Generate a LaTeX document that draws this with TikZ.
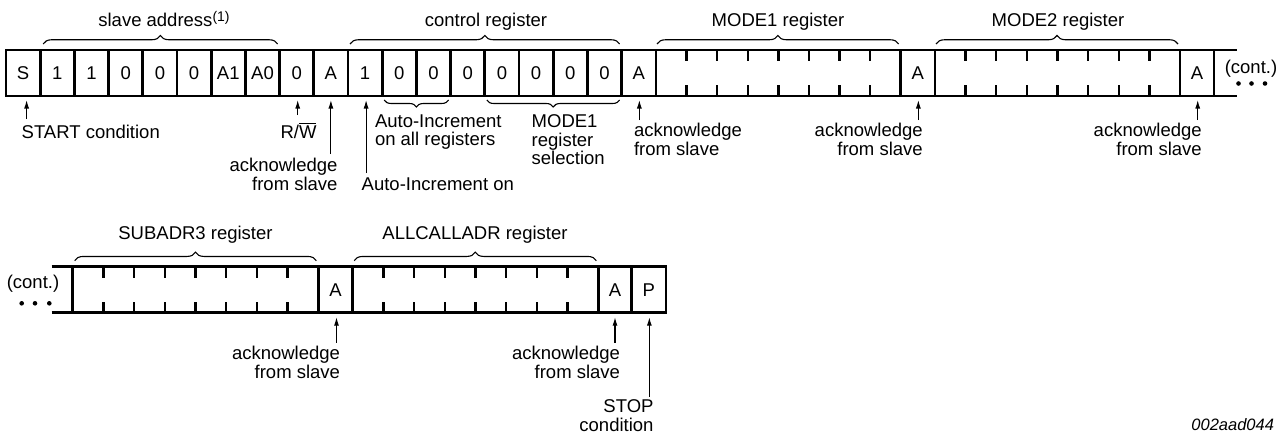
\documentclass[tikz,border=0pt]{standalone}
\usepackage{fontspec}
\setmainfont{Liberation Sans}
\usetikzlibrary{arrows.meta,decorations.pathreplacing,calc}
\newcommand\ovl[1]{\setbox0\hbox{#1}\rlap{\rule[\dimexpr\ht0+1.6pt\relax]{\wd0}{1.1pt}}\box0}
\newcommand\lblfont{\fontsize{18.5}{18.3}\selectfont}
\begin{document}
\begin{tikzpicture}[x=1pt,y=-1pt,
  cell/.style={draw,line width=2.8pt,minimum height=46pt,inner sep=0pt,outer sep=0pt,anchor=north west,font=\lblfont},
  lnk/.style={line width=2.8pt},
  tk/.style={line width=2.4pt},
  arr/.style={line width=1.1pt,-{Latex[length=8.5pt,width=5pt]}},
  brc/.style={decorate,decoration={brace,amplitude=8.5pt},line width=1.1pt},
  brcd/.style={decorate,decoration={brace,amplitude=7pt},line width=1.1pt},
  lbl/.style={font=\lblfont,inner sep=0pt,outer sep=0pt},
  dot/.style={fill,circle,inner sep=0pt,minimum size=4.6pt}]
\path[use as bounding box] (0,0) rectangle (1288,439);

% ---------- row 1 ----------
\foreach \t [count=\i from 0] in {S,1,1,0,0,0,A1,A0,0,A,1,0,0,0,0,0,0,0}
  \node[cell,minimum width=34.2pt] (c\i) at ({6+\i*34.2},50) {\t};
\node[cell,minimum width=34.3pt] (a1) at (621.7,50) {A};
\node[cell,minimum width=244.7pt] (m1) at (656,50) {};
\node[cell,minimum width=34.3pt] (a2) at (900.7,50) {A};
\node[cell,minimum width=245pt] (m2) at (935,50) {};
\node[cell,minimum width=34pt] (a3) at (1180,50) {A};
\coordinate (e1t) at (1236.7,50);
\coordinate (e1b) at (1236.7,96);
\draw[lnk] (a3.north east) -- (e1t);
\draw[lnk] (a3.south east) -- (e1b);
\node[lbl,anchor=base] (cont1) at (1251,73.5) {(cont.)};
\node[dot] (d11) at (1238.5,83.5) {};
\node[dot] (d12) at (1251.5,83.5) {};
\node[dot] (d13) at (1265,83.5) {};

% ---------- row 2 ----------
\coordinate (s0t) at (51.7,266.7);
\coordinate (s0b) at (51.7,312.7);
\node[cell,minimum width=245.6pt] (m3) at (72.7,266.7) {};
\node[cell,minimum width=34.4pt] (a4) at (318.3,266.7) {A};
\node[cell,minimum width=245.6pt] (m4) at (352.7,266.7) {};
\node[cell,minimum width=33.4pt] (a5) at (598.3,266.7) {A};
\node[cell,minimum width=34.3pt] (pp) at (631.7,266.7) {P};
\draw[lnk] (s0t) -- (m3.north west);
\draw[lnk] (s0b) -- (m3.south west);
\node[lbl,anchor=base] (cont2) at (33,288.5) {(cont.)};
\node[dot] (d21) at (21.7,303.3) {};
\node[dot] (d22) at (35,303.3) {};
\node[dot] (d23) at (49.3,303.3) {};

% ticks in register fields
\foreach \r in {m1,m2,m3,m4}
  \foreach \k in {1,...,7} {
    \draw[tk] ($(\r.north west)!\k/8!(\r.north east)$) -- ++(0,11);
    \draw[tk] ($(\r.south west)!\k/8!(\r.south east)$) -- ++(0,-11);
  }

% ---------- top braces and labels ----------
\draw[brc] ($(c1.north west)+(3,-6)$) -- ($(c7.north east)+(-2,-6)$);
\draw[brc] ($(c10.north west)+(2,-6)$) -- ($(c17.north east)+(-2,-6)$);
\draw[brc] ($(m1.north west)+(1,-6)$) -- ($(m1.north east)+(-2,-6)$);
\draw[brc] ($(m2.north west)+(1,-6)$) -- ($(m2.north east)+(-2,-6)$);
\draw[brc] ($(m3.north west)+(2,-6)$) -- ($(m3.north east)+(-2,-6)$);
\draw[brc] ($(m4.north west)+(1.5,-6)$) -- ($(m4.north east)+(-2,-6)$);
\node[lbl,anchor=base] (tsa) at (164,27) {slave address\raisebox{5.5pt}{\fontsize{14}{14}\selectfont(1)}};
\node[lbl,anchor=base] (tcr) at (486,27) {control register};
\node[lbl,anchor=base] (tm1) at (778,27) {MODE1 register};
\node[lbl,anchor=base] (tm2) at (1058,27) {MODE2 register};
\node[lbl,anchor=base] (ts3) at (195.5,239) {SUBADR3 register};
\node[lbl,anchor=base] (tal) at (475,239) {ALLCALLADR register};

% ---------- row 1 annotations ----------
\node[lbl,anchor=base west] (lstart) at (21.7,138) {START condition};
\draw[arr] ($(c0.south)+(3.5,23)$) -- ($(c0.south)+(3.5,4)$);

\node[lbl,anchor=base] (lrw) at (298.5,138) {R/\ovl{W}};
\draw[arr] ($(c8.south)+(1,19)$) -- ($(c8.south)+(1,4)$);

\node[lbl,anchor=north east,align=right] (lack1) at (337.5,158.4) {acknowledge\\from slave};
\draw[arr] ($(c9.south)+(0,58)$) -- ($(c9.south)+(0,4)$);

\node[lbl,anchor=north west] (lai) at (361.7,177.7) {Auto-Increment on};
\draw[arr] ($(c10.south)+(1,77)$) -- ($(c10.south)+(1,4)$);

\draw[brcd] ($(c12.south east)+(-2,4)$) -- ($(c11.south west)+(2,4)$);
\node[lbl,anchor=north west,align=left] (lai2) at (375,114.8) {Auto-Increment\\on all registers};

\draw[brcd] ($(c17.south east)+(-2,4)$) -- ($(c14.south west)+(2,4)$);
\node[lbl,anchor=north west,align=left] (lsel) at (531.7,114.8) {MODE1\\register\\selection};

\node[lbl,anchor=north west,align=left] (lack2) at (634,123.4) {acknowledge\\from slave};
\draw[arr] ($(a1.south)+(0.5,24)$) -- ($(a1.south)+(0.5,4)$);

\node[lbl,anchor=north east,align=right] (lack3) at (922.7,123.4) {acknowledge\\from slave};
\draw[arr] ($(a2.south)+(0.5,24)$) -- ($(a2.south)+(0.5,4)$);

\node[lbl,anchor=north east,align=right] (lack4) at (1201.7,123.4) {acknowledge\\from slave};
\draw[arr] ($(a3.south)+(0.7,24)$) -- ($(a3.south)+(0.7,4)$);

% ---------- row 2 annotations ----------
\node[lbl,anchor=north east,align=right] (lack5) at (340,346.4) {acknowledge\\from slave};
\draw[arr] ($(a4.south)+(1,30)$) -- ($(a4.south)+(1,4.5)$);

\node[lbl,anchor=north east,align=right] (lack6) at (620,346.4) {acknowledge\\from slave};
\draw[arr] ($(a5.south)+(0,30)$) -- ($(a5.south)+(0,4.5)$);

\node[lbl,anchor=north east,align=right] (lstop) at (653.5,399.8) {STOP\\condition};
\draw[arr] ($(pp.south)+(0.5,84)$) -- ($(pp.south)+(0.5,4.5)$);

\node[lbl,anchor=base east,font=\fontsize{16.5}{17}\selectfont\itshape] (fig) at (1274,430) {002aad044};
\end{tikzpicture}
\end{document}
